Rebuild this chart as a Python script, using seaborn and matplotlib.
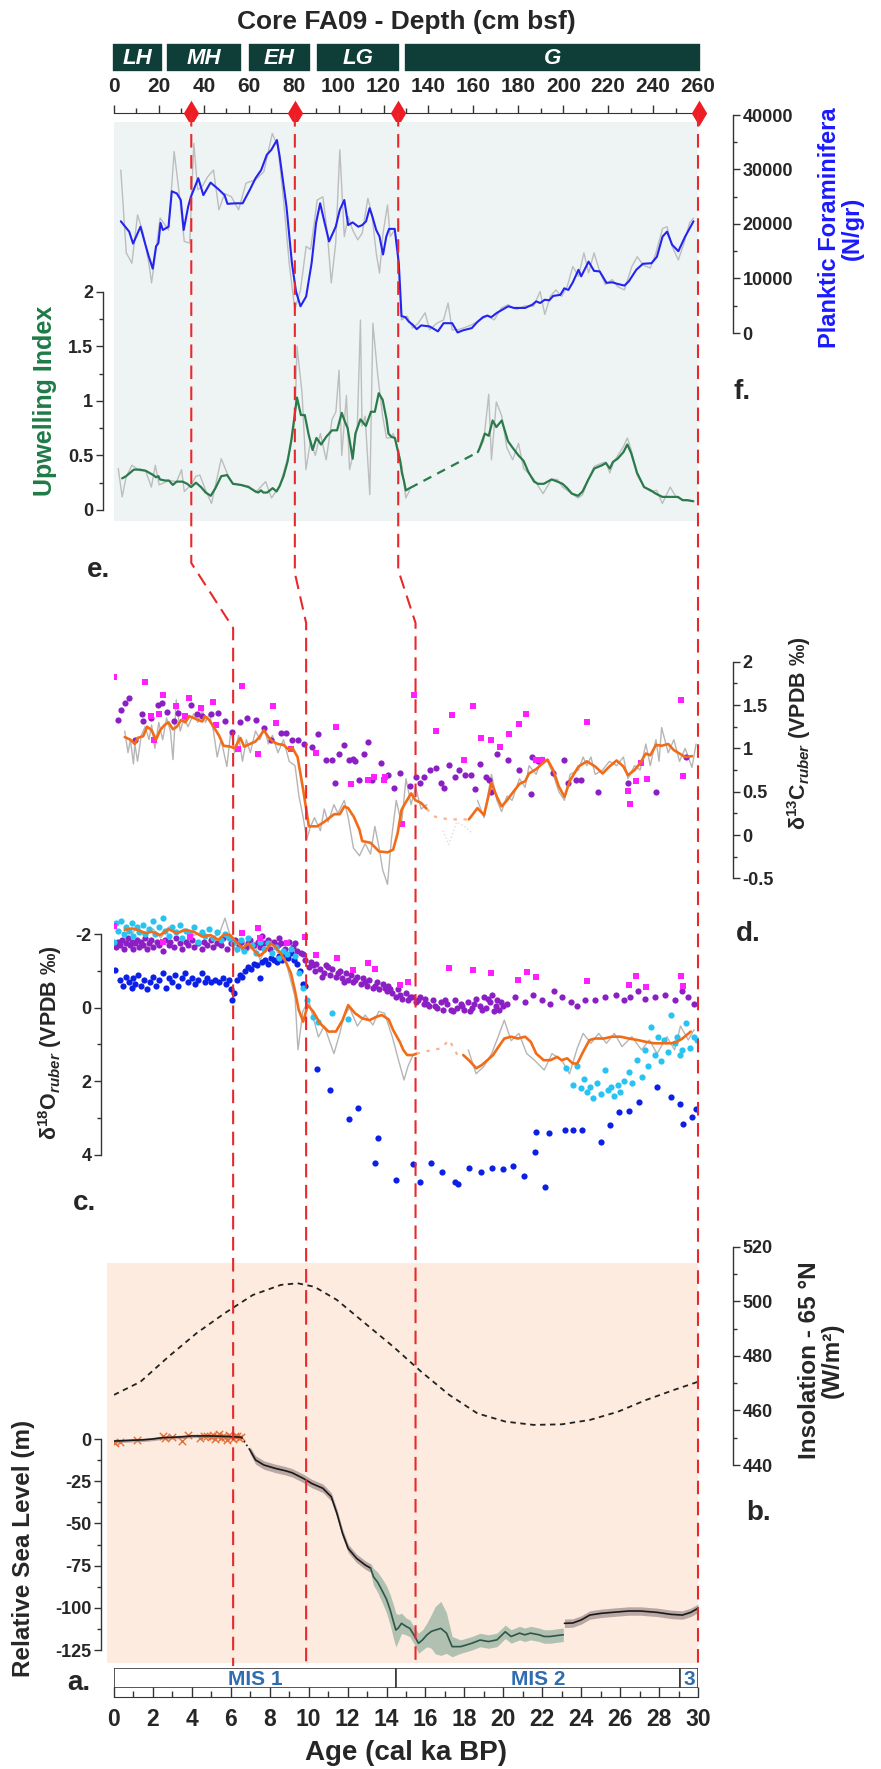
import numpy as np
import matplotlib
matplotlib.use('Agg')
import matplotlib.pyplot as plt
from matplotlib.ticker import FixedLocator, FuncFormatter
import seaborn as sns

# ---------------- data (ages in cal ka BP) ----------------
zone_labels = ['LH', 'MH', 'EH', 'LG', 'G']
zone_start = [-1, 23, 59.5, 90, 129]
zone_end = [21.75, 57, 87.5, 127.5, 261.5]

tie_depth = [34.5, 80.5, 126.5, 260.5]
tie_age_upper = [3.97, 9.29, 14.6, 30.0]
tie_age_lower = [6.12, 9.87, 15.49, 30.0]

mis_labels = ['MIS 1', 'MIS 2', '3']
mis_start = [0, 14.5, 29.1]
mis_end = [14.5, 29.1, 30]

# f. planktic foraminifera (N/gr)
foram_age = [0.35, 0.78, 0.98, 1.36, 1.59, 1.79, 1.99, 2.16, 2.28, 2.39,
             2.51, 2.80, 2.97, 3.23, 3.43, 3.58, 3.81, 3.95, 4.33, 4.59,
             4.96, 5.39, 5.68, 5.83, 6.26, 6.61, 6.98, 7.27, 7.56, 7.85,
             8.08, 8.37, 8.51, 8.86, 9.14, 9.35, 9.58, 9.87, 10.15, 10.38,
             10.59, 10.82, 11.05, 11.39, 11.60, 11.83, 12.03, 12.26, 12.55, 12.75,
             12.95, 13.13, 13.27, 13.47, 13.64, 13.82, 13.99, 14.13, 14.42, 14.63,
             14.77, 14.97, 15.14, 15.35, 15.55, 15.78, 16.21, 16.36, 16.64, 16.93,
             17.37, 17.65, 17.94, 18.38, 18.66, 18.95, 19.18, 19.38, 19.67, 19.96,
             20.25, 20.54, 21.12, 21.49, 21.69, 21.89, 22.13, 22.36, 22.56, 22.93,
             23.13, 23.34, 23.57, 23.86, 24.00, 24.38, 24.66, 24.95, 25.30, 25.59,
             25.88, 26.22, 26.45, 26.83, 27.17, 27.61, 27.89, 28.18, 28.41, 28.67,
             28.99, 29.34, 29.77]
foram_val = [20500, 18600, 16400, 19500, 16500, 14000, 11800, 15900, 16500, 20200,
             18900, 19500, 26000, 25600, 24400, 18900, 23200, 25000, 28400, 25300,
             27600, 26300, 25300, 23700, 23800, 23800, 26300, 28400, 29900, 32700,
             33600, 35400, 32400, 23200, 12800, 7600, 4900, 6700, 12800, 20200,
             23800, 20200, 16800, 19500, 22600, 24400, 19800, 20300, 19500, 19800,
             20500, 22900, 21400, 18900, 17700, 14400, 17700, 19100, 19100, 12800,
             3100, 2900, 2100, 1500, 700, 1400, 1200, 900, 300, 1800,
             1800, 100, 500, 900, 2000, 2900, 3200, 2900, 3700, 4300,
             4900, 4600, 4600, 5200, 5800, 5500, 6100, 6000, 6800, 7000,
             8200, 7900, 9300, 11600, 10400, 13100, 11400, 11300, 9200, 9300,
             9000, 8700, 9500, 11600, 12700, 12800, 14000, 17700, 18600, 16200,
             15000, 17700, 20500]
foram_raw_age = [0.35, 0.63, 0.92, 1.21, 1.50, 1.79, 1.93, 2.16, 2.37, 2.80,
                 3.09, 3.37, 3.61, 3.89, 4.10, 4.30, 4.53, 4.82, 5.11, 5.39,
                 5.68, 6.03, 6.40, 6.78, 7.27, 7.70, 8.13, 8.42, 8.71, 9.00,
                 9.29, 9.58, 9.87, 10.10, 10.44, 10.73, 10.96, 11.16, 11.39, 11.60,
                 11.83, 12.03, 12.26, 12.52, 12.75, 13.04, 13.24, 13.47, 13.64, 13.82,
                 14.05, 14.19, 14.42, 14.57, 14.77, 15.06, 15.35, 15.63, 15.98, 16.21,
                 16.59, 16.93, 17.16, 17.37, 17.65, 17.94, 18.38, 18.81, 19.18, 19.53,
                 19.90, 20.25, 20.68, 21.12, 21.55, 21.89, 22.13, 22.41, 22.70, 22.99,
                 23.28, 23.57, 23.86, 24.14, 24.38, 24.66, 24.95, 25.24, 25.59, 25.88,
                 26.22, 26.60, 26.88, 27.17, 27.55, 27.84, 28.18, 28.41, 28.67, 28.99,
                 29.28, 29.57, 29.77]
foram_raw_val = [29900, 14700, 12800, 21700, 18300, 12800, 9200, 15300, 21100, 18900,
                 33300, 25000, 16800, 16500, 34800, 26300, 26900, 28700, 29900, 22600,
                 25600, 25000, 22600, 27500, 28100, 29600, 36600, 34200, 24400, 12800,
                 4300, 7900, 15900, 15300, 24400, 25000, 18300, 9200, 16500, 33600,
                 17700, 21400, 18900, 17100, 18300, 24700, 22000, 14700, 11000, 18300,
                 23500, 17700, 18900, 15300, 2400, 3100, 900, 1800, 3700, 600,
                 1800, 2400, 5500, 600, 600, 900, 1500, 2400, 3100, 2400,
                 4600, 5200, 4300, 5000, 4900, 7600, 3400, 6700, 7900, 6700,
                 8500, 12200, 10400, 14700, 11000, 14700, 11300, 8900, 9800, 8500,
                 7900, 12200, 14000, 12500, 11900, 14700, 19200, 19500, 15900, 13400,
                 16500, 20200, 21100]

# e. upwelling index
upw_age1 = [0.42, 0.62, 1.02, 1.32, 1.62, 1.82, 2.02, 2.16, 2.28, 2.36,
            2.62, 2.82, 3.02, 3.22, 3.52, 3.76, 3.96, 4.21, 4.47, 4.71,
            4.97, 5.21, 5.51, 5.81, 6.11, 6.51, 6.91, 7.27, 7.41, 7.55,
            7.67, 7.87, 8.01, 8.15, 8.35, 8.51, 8.71, 8.91, 9.11, 9.26,
            9.40, 9.60, 9.80, 10.00, 10.20, 10.40, 10.64, 10.90, 11.20, 11.46,
            11.70, 11.86, 12.00, 12.26, 12.40, 12.66, 12.94, 13.20, 13.40, 13.60,
            13.80, 14.00, 14.10, 14.25, 14.43, 14.53, 14.69, 14.79, 14.89, 14.99,
            15.19]
upw_val1 = [0.29, 0.31, 0.37, 0.37, 0.36, 0.34, 0.32, 0.30, 0.31, 0.28,
            0.27, 0.27, 0.23, 0.26, 0.26, 0.24, 0.21, 0.25, 0.21, 0.16,
            0.13, 0.20, 0.31, 0.32, 0.24, 0.23, 0.21, 0.17, 0.16, 0.18,
            0.16, 0.16, 0.18, 0.20, 0.17, 0.22, 0.31, 0.44, 0.64, 0.84,
            1.03, 0.87, 0.87, 0.69, 0.55, 0.66, 0.60, 0.67, 0.73, 0.73,
            0.89, 0.81, 0.75, 0.47, 0.70, 0.83, 0.77, 0.90, 0.90, 1.07,
            1.01, 0.83, 0.70, 0.67, 0.66, 0.58, 0.46, 0.34, 0.27, 0.18,
            0.20]
upw_age2 = [18.69, 18.79, 19.05, 19.25, 19.45, 19.64, 19.92, 20.24, 20.48, 20.78,
            21.04, 21.28, 21.58, 21.78, 22.08, 22.48, 22.78, 23.04, 23.28, 23.52,
            23.84, 24.07, 24.37, 24.67, 25.07, 25.27, 25.47, 25.63, 25.87, 26.17,
            26.37, 26.57, 26.87, 27.23, 27.57, 27.83, 28.17, 28.47, 28.77, 28.97,
            29.21, 29.47, 29.76]
upw_val2 = [0.53, 0.57, 0.70, 0.68, 0.82, 0.76, 0.82, 0.63, 0.57, 0.50,
            0.45, 0.35, 0.26, 0.24, 0.24, 0.28, 0.26, 0.24, 0.20, 0.15,
            0.13, 0.17, 0.28, 0.38, 0.41, 0.43, 0.38, 0.44, 0.47, 0.53,
            0.60, 0.52, 0.34, 0.21, 0.18, 0.15, 0.12, 0.12, 0.12, 0.12,
            0.09, 0.09, 0.08]
upw_raw_age1 = [0.22, 0.42, 0.62, 0.92, 1.32, 1.62, 1.92, 2.12, 2.32, 2.82,
                3.22, 3.47, 3.61, 3.96, 4.21, 4.41, 4.71, 5.01, 5.51, 5.87,
                6.11, 6.91, 7.27, 7.79, 8.09, 8.51, 9.00, 9.30, 9.40, 9.66,
                9.86, 10.10, 10.34, 10.60, 10.90, 11.20, 11.40, 11.56, 11.70, 11.94,
                12.10, 12.30, 12.50, 12.66, 12.74, 12.90, 13.14, 13.30, 13.54, 13.80,
                14.00, 14.20, 14.34, 14.50, 14.79, 14.99, 15.19]
upw_raw_val1 = [0.38, 0.12, 0.30, 0.41, 0.36, 0.36, 0.21, 0.41, 0.23, 0.27,
                0.26, 0.37, 0.17, 0.23, 0.31, 0.32, 0.18, 0.06, 0.47, 0.31,
                0.24, 0.22, 0.16, 0.26, 0.11, 0.22, 0.52, 0.83, 1.50, 1.07,
                0.37, 0.64, 0.50, 0.70, 0.46, 0.83, 0.90, 1.28, 0.50, 1.05,
                0.37, 0.52, 0.77, 1.74, 0.77, 0.86, 0.14, 1.71, 1.25, 0.86,
                0.66, 0.66, 0.70, 0.61, 0.40, 0.11, 0.18]
upw_raw_age2 = [18.69, 18.99, 19.25, 19.39, 19.64, 19.92, 20.18, 20.48, 20.78, 21.04,
                21.28, 21.58, 22.04, 22.48, 22.78, 23.04, 23.28, 23.84, 24.07, 24.37,
                24.67, 25.07, 25.27, 25.47, 25.67, 26.17, 26.37, 26.57, 26.87, 27.23,
                27.57, 27.87, 28.17, 28.57, 28.87, 29.27, 29.76]
upw_raw_val2 = [0.53, 0.63, 1.06, 0.46, 0.99, 0.86, 0.57, 0.46, 0.61, 0.38,
                0.34, 0.28, 0.15, 0.28, 0.28, 0.21, 0.18, 0.11, 0.14, 0.28,
                0.40, 0.43, 0.44, 0.34, 0.44, 0.58, 0.66, 0.55, 0.32, 0.21,
                0.17, 0.18, 0.06, 0.21, 0.12, 0.09, 0.08]

# d. d13C ruber
d13c_age1 = [0.55, 0.84, 1.07, 1.21, 1.50, 1.70, 1.93, 2.16, 2.37, 2.60,
             2.80, 3.03, 3.23, 3.46, 3.66, 3.87, 4.10, 4.30, 4.53, 4.67,
             4.88, 5.11, 5.39, 5.63, 5.97, 6.20, 6.49, 6.69, 6.98, 7.27,
             7.47, 7.70, 7.93, 8.14, 8.42, 8.71, 9.00, 9.15, 9.43, 9.72,
             10.01, 10.44, 10.79, 11.02, 11.31, 11.60, 11.83, 12.03, 12.32, 12.61,
             12.75, 13.18, 13.62, 14.05, 14.34, 14.57, 14.77, 14.97, 15.26, 15.49,
             15.78, 16.07]
d13c_val1 = [1.13, 1.10, 1.05, 1.12, 1.14, 1.25, 1.21, 1.10, 1.21, 1.27,
             1.30, 1.22, 1.25, 1.33, 1.30, 1.37, 1.35, 1.33, 1.31, 1.37,
             1.33, 1.25, 1.15, 1.03, 1.02, 1.00, 1.12, 1.02, 1.05, 1.08,
             1.13, 1.21, 1.13, 1.08, 1.05, 1.04, 0.98, 1.01, 0.90, 0.52,
             0.10, 0.10, 0.15, 0.19, 0.24, 0.24, 0.33, 0.31, 0.21, 0.06,
             -0.07, -0.09, -0.19, -0.20, -0.17, 0.02, 0.29, 0.37, 0.48, 0.40,
             0.37, 0.30]
d13c_gap_age = [16.50, 16.93, 17.37, 17.80]
d13c_gap_val = [0.21, 0.19, 0.18, 0.18]
d13c_age2 = [18.23, 18.67, 19.01, 19.39, 19.67, 19.91, 20.19, 20.45, 20.83, 21.12,
             21.32, 21.69, 21.98, 22.27, 22.56, 22.85, 23.14, 23.43, 23.86, 24.29,
             24.72, 25.10, 25.45, 25.82, 26.17, 26.40, 26.74, 27.03, 27.32, 27.55,
             27.84, 28.13, 28.47, 28.76, 29.05, 29.34, 29.69]
d13c_val2 = [0.18, 0.31, 0.23, 0.60, 0.44, 0.33, 0.40, 0.48, 0.59, 0.62,
             0.71, 0.76, 0.82, 0.87, 0.75, 0.56, 0.44, 0.63, 0.79, 0.85,
             0.79, 0.71, 0.79, 0.86, 0.79, 0.69, 0.75, 0.83, 0.94, 0.92,
             1.04, 1.03, 1.05, 0.98, 0.94, 0.90, 0.91]
d13c_raw_age1 = [0.55, 0.72, 0.84, 1.00, 1.07, 1.21, 1.40, 1.60, 1.80, 1.93,
                 2.10, 2.30, 2.50, 2.70, 2.90, 3.03, 3.20, 3.40, 3.60, 3.80,
                 4.10, 4.30, 4.53, 4.70, 4.90, 5.11, 5.30, 5.50, 5.80, 6.00,
                 6.20, 6.40, 6.60, 6.80, 7.00, 7.27, 7.50, 7.70, 7.93, 8.14,
                 8.42, 8.71, 9.00, 9.30, 9.50, 9.72, 9.90, 10.10, 10.30, 10.60,
                 10.80, 11.00, 11.30, 11.50, 11.83, 12.03, 12.30, 12.61, 12.90, 13.18,
                 13.40, 13.62, 13.80, 14.05, 14.25, 14.50, 14.77, 15.00, 15.26, 15.49,
                 15.78, 16.07]
d13c_raw_val1 = [1.20, 0.95, 1.10, 0.82, 1.05, 0.85, 1.15, 1.25, 1.10, 1.27,
                 1.00, 1.30, 1.10, 1.35, 1.20, 0.87, 1.56, 1.20, 1.35, 1.25,
                 1.40, 1.30, 1.45, 1.30, 1.40, 1.20, 0.90, 1.10, 0.79, 1.20,
                 0.95, 1.15, 0.85, 1.10, 0.95, 1.20, 1.10, 1.25, 1.05, 1.15,
                 0.95, 1.10, 0.85, 0.80, 0.45, 0.20, -0.05, 0.10, 0.20, 0.05,
                 0.30, 0.15, 0.35, 0.25, 0.40, 0.20, -0.15, -0.24, -0.10, -0.22,
                 0.10, -0.15, -0.40, -0.57, -0.05, 0.40, 0.13, 0.65, 0.35, 0.55,
                 0.30, 0.35]
d13c_raw_gap_age = [16.90, 17.20, 17.60, 18.00, 18.40]
d13c_raw_gap_val = [0.05, -0.11, 0.15, 0.10, 0.02]
d13c_raw_age2 = [18.67, 19.01, 19.39, 19.67, 19.91, 20.19, 20.45, 20.83, 21.12, 21.32,
                 21.69, 21.98, 22.27, 22.56, 22.85, 23.14, 23.43, 23.86, 24.10, 24.29,
                 24.50, 24.72, 25.10, 25.45, 25.82, 26.17, 26.40, 26.74, 27.03, 27.32,
                 27.55, 27.84, 28.00, 28.13, 28.47, 28.76, 29.05, 29.34, 29.69, 29.90]
d13c_raw_val2 = [0.40, 0.20, 0.70, 0.40, 0.27, 0.45, 0.40, 0.65, 0.55, 0.80,
                 0.70, 0.90, 0.85, 0.70, 0.50, 0.40, 0.70, 0.75, 0.90, 0.80,
                 0.90, 0.70, 0.75, 0.85, 0.80, 0.90, 0.65, 0.80, 0.75, 1.05,
                 0.80, 1.10, 0.85, 1.24, 0.95, 1.10, 0.85, 1.00, 0.78, 1.05]
d13c_purple_age = [0.20, 0.35, 0.55, 0.78, 1.07, 1.44, 1.50, 1.88, 2.28, 2.45,
                   2.74, 3.09, 3.29, 3.66, 3.95, 4.24, 4.53, 4.96, 5.34, 5.68,
                   6.06, 6.49, 6.84, 7.27, 7.70, 8.08, 8.57, 8.86, 9.15, 9.43,
                   9.78, 10.15, 10.50, 10.88, 11.22, 11.37, 11.57, 11.80, 12.09, 12.26,
                   12.38, 12.61, 12.84, 13.04, 13.24, 13.70, 14.05, 14.40, 14.68, 15.20,
                   15.49, 15.72, 15.92, 16.24, 16.53, 16.79, 16.93, 17.22, 17.51, 17.74,
                   18.03, 18.32, 18.52, 18.81, 19.10, 19.24, 19.39, 19.67, 20.25, 20.83,
                   21.41, 21.49, 21.78, 22.56, 23.14, 23.34, 23.71, 24.00, 24.87, 26.40,
                   27.84, 29.40]
d13c_purple_val = [1.33, 1.44, 1.52, 1.58, 1.10, 1.40, 1.31, 1.35, 1.50, 1.52,
                   1.42, 1.31, 1.41, 1.37, 1.50, 1.40, 1.37, 1.40, 1.41, 1.31,
                   1.19, 1.30, 1.35, 1.33, 1.23, 1.10, 1.18, 1.18, 1.10, 1.10,
                   1.05, 1.01, 1.16, 0.87, 0.87, 0.60, 0.94, 1.04, 0.87, 0.88,
                   0.85, 0.64, 0.94, 1.07, 0.64, 0.83, 0.69, 0.54, 0.71, 0.56,
                   0.67, 0.60, 0.67, 0.75, 0.77, 0.60, 0.54, 0.81, 0.67, 0.75,
                   0.69, 0.69, 0.53, 0.82, 0.67, 0.63, 0.50, 0.94, 0.87, 0.75,
                   0.47, 0.90, 0.85, 0.71, 0.87, 0.60, 0.64, 0.64, 0.50, 0.60,
                   0.50, 0.90]
d13c_pink_age = [0.00, 1.59, 1.88, 2.08, 2.31, 2.54, 3.20, 3.66, 3.84, 4.47,
                 5.11, 5.25, 6.38, 6.55, 7.41, 8.19, 8.31, 9.09, 10.36, 11.40,
                 12.15, 13.04, 13.36, 13.85, 13.93, 14.80, 15.41, 16.56, 17.37, 17.97,
                 18.46, 18.84, 19.36, 19.85, 20.31, 20.83, 21.18, 21.69, 21.98, 24.29,
                 26.40, 26.51, 26.80, 27.09, 27.38, 29.14, 29.22]
d13c_pink_val = [1.82, 1.77, 1.37, 1.10, 1.40, 1.62, 1.49, 1.37, 1.58, 1.47,
                 1.53, 1.27, 0.99, 1.72, 0.94, 1.49, 1.29, 0.99, 0.95, 1.25,
                 0.59, 0.63, 0.67, 0.64, 0.67, 0.13, 1.62, 1.20, 1.38, 0.87,
                 1.49, 1.12, 1.10, 1.01, 1.17, 1.28, 1.40, 0.86, 0.86, 1.30,
                 0.51, 0.36, 0.62, 0.83, 0.65, 1.56, 0.68]

# c. d18O ruber
d18o_age1 = [0.55, 0.92, 1.21, 1.64, 1.93, 2.37, 2.80, 3.23, 3.66, 4.10,
             4.53, 4.96, 5.34, 5.68, 5.97, 6.26, 6.61, 6.90, 7.18, 7.47,
             7.76, 8.05, 8.28, 8.57, 8.86, 9.09, 9.29, 9.49, 9.72, 9.95,
             10.24, 10.59, 11.02, 11.40, 11.74, 12.03, 12.38, 12.75, 13.13, 13.47,
             13.76, 14.11, 14.34, 14.68, 14.86, 15.06, 15.35, 15.55]
d18o_val1 = [-2.12, -2.16, -2.12, -2.03, -2.07, -1.98, -2.14, -2.03, -2.12, -2.07,
             -1.94, -1.98, -1.85, -2.00, -1.98, -1.80, -1.62, -1.75, -1.57, -1.41,
             -1.53, -1.75, -1.66, -1.48, -1.21, -0.94, -0.48, 0.06, 0.38, -0.07,
             0.11, 0.43, 0.65, 0.65, 0.34, -0.07, 0.15, 0.29, 0.34, 0.25,
             0.20, 0.32, 0.61, 0.93, 1.15, 1.29, 1.29, 1.25]
d18o_gap_age = [16.36, 16.79, 17.22, 17.65]
d18o_gap_val = [1.15, 1.11, 0.88, 1.29]
d18o_age2 = [17.94, 18.23, 18.61, 18.90, 19.18, 19.47, 19.76, 20.05, 20.40, 20.74,
             21.12, 21.41, 21.69, 22.07, 22.42, 22.76, 22.99, 23.28, 23.57, 23.80,
             24.15, 24.43, 24.72, 25.16, 25.59, 26.02, 26.45, 26.89, 27.32, 27.75,
             28.18, 28.62, 28.91, 29.20, 29.63]
d18o_val2 = [1.29, 1.43, 1.65, 1.56, 1.43, 1.29, 1.06, 0.84, 0.79, 0.84,
             0.79, 0.93, 1.25, 1.43, 1.43, 1.34, 1.43, 1.38, 1.52, 1.52,
             1.15, 0.88, 0.84, 0.84, 0.79, 0.79, 0.84, 0.88, 0.93, 0.97,
             0.97, 0.97, 0.93, 0.84, 0.65]
d18o_raw_age1 = [0.55, 0.90, 1.20, 1.60, 2.00, 2.40, 2.80, 3.20, 3.60, 4.00,
                 4.50, 5.00, 5.40, 5.70, 6.00, 6.30, 6.60, 6.90, 7.20, 7.50,
                 7.80, 8.10, 8.40, 8.70, 9.00, 9.30, 9.45, 9.70, 10.00, 10.30,
                 10.50, 10.80, 11.30, 11.60, 11.80, 12.10, 12.50, 12.90, 13.30, 13.60,
                 13.90, 14.30, 14.60, 14.90, 15.10, 15.35]
d18o_raw_val1 = [-2.20, -2.00, -2.20, -1.95, -2.15, -1.90, -2.20, -2.00, -2.15, -1.95,
                 -2.05, -1.90, -2.00, -2.44, -1.90, -1.50, -1.80, -1.55, -1.75, -1.30,
                 -1.60, -1.85, -1.50, -1.55, -0.90, -0.30, 1.15, 0.10, -0.20, 0.40,
                 0.80, 0.50, 1.25, 0.70, 0.25, 0.00, 0.50, 0.20, 0.47, 0.10,
                 0.15, 0.80, 1.40, 1.97, 1.60, 1.30]
d18o_raw_age2 = [18.20, 18.60, 19.00, 19.40, 19.80, 20.05, 20.40, 20.80, 21.20, 21.60,
                 22.10, 22.50, 23.00, 23.40, 23.80, 24.10, 24.50, 24.90, 25.30, 25.70,
                 26.10, 26.60, 27.10, 27.50, 27.90, 28.40, 28.80, 29.10, 29.50, 29.80]
d18o_raw_val2 = [1.15, 1.80, 1.60, 1.25, 0.70, 0.34, 0.90, 0.70, 1.25, 1.43,
                 1.70, 1.25, 1.43, 1.80, 1.10, 0.70, 0.97, 0.70, 0.97, 0.70,
                 1.06, 0.79, 1.15, 0.88, 1.25, 0.79, 1.15, 0.50, 0.88, 0.60]
d18o_purple_age = [0.10, 0.20, 0.30, 0.40, 0.50, 0.60, 0.70, 0.80, 0.90, 1.00,
                   1.10, 1.20, 1.30, 1.40, 1.50, 1.60, 1.70, 1.80, 1.90, 2.00,
                   2.20, 2.30, 2.50, 2.60, 2.80, 2.90, 3.10, 3.20, 3.40, 3.50,
                   3.70, 3.80, 4.00, 4.10, 4.30, 4.50, 4.60, 4.80, 5.00, 5.10,
                   5.30, 5.50, 5.60, 5.80, 6.00, 6.20, 6.40, 6.50, 6.70, 6.90,
                   7.00, 7.20, 7.40, 7.50, 7.70, 7.90, 8.00, 8.20, 8.40, 8.60,
                   8.80, 9.00, 9.20, 9.40, 9.60, 9.80, 10.00, 10.10, 10.30, 10.40,
                   10.60, 10.80, 10.90, 11.10, 11.20, 11.40, 11.60, 11.70, 11.90, 12.00,
                   12.20, 12.30, 12.50, 12.70, 12.80, 13.00, 13.10, 13.30, 13.50, 13.60,
                   13.80, 14.00, 14.10, 14.30, 14.50, 14.60, 14.80, 15.00, 15.10, 15.30,
                   15.50, 15.70, 15.90, 16.00, 16.20, 16.40, 16.60, 16.80, 16.90, 17.10,
                   17.30, 17.50, 17.60, 17.80, 18.00, 18.20, 18.40, 18.60, 18.80, 19.00,
                   19.10, 19.30, 19.40, 19.60, 19.70, 19.80, 20.20, 20.60, 21.10, 21.50,
                   22.00, 22.40, 22.60, 23.00, 23.50, 23.80, 24.20, 24.70, 25.20, 25.80,
                   26.20, 26.50, 26.90, 27.30, 27.80, 28.30, 28.80, 29.20, 29.50, 29.80,
                   9.70, 10.20, 10.70, 11.00, 11.50, 11.80, 12.40, 12.90, 13.40, 13.90,
                   14.20, 14.70, 15.20, 15.60, 16.10, 16.50, 17.00, 17.40, 17.90, 18.30,
                   18.50, 18.90, 19.20, 19.50, 19.90, 20.00, 9.30, 8.50, 7.60, 6.80]
d18o_purple_val = [-1.65, -1.80, -1.70, -1.85, -1.60, -1.75, -1.90, -1.70, -1.80, -1.60,
                   -1.75, -1.85, -1.65, -1.80, -1.70, -1.90, -1.60, -1.75, -1.85, -1.65,
                   -1.80, -1.70, -1.55, -1.85, -1.70, -1.80, -1.65, -1.90, -1.75, -1.60,
                   -1.80, -1.70, -1.85, -1.65, -1.75, -1.60, -1.80, -1.70, -1.85, -1.65,
                   -1.75, -1.70, -1.90, -1.60, -1.75, -1.85, -1.70, -1.80, -1.60, -1.75,
                   -1.85, -1.70, -1.80, -1.65, -1.75, -1.85, -1.60, -1.80, -1.70, -1.75,
                   -1.60, -1.80, -1.65, -1.55, -1.50, -1.30, -1.10, -1.25, -1.00, -1.20,
                   -1.05, -0.95, -1.15, -0.90, -1.05, -0.85, -1.00, -0.80, -0.95, -0.75,
                   -0.90, -0.70, -0.85, -0.65, -0.80, -0.60, -0.75, -0.55, -0.70, -0.50,
                   -0.65, -0.45, -0.60, -0.40, -0.30, -0.50, -0.25, -0.40, -0.20, -0.30,
                   -0.15, -0.30, -0.10, -0.25, -0.05, -0.20, 0.00, -0.15, 0.05, -0.10,
                   0.05, -0.20, 0.00, -0.10, 0.05, -0.15, 0.00, -0.25, -0.05, -0.30,
                   0.00, -0.15, -0.35, -0.05, -0.20, 0.05, -0.10, -0.30, -0.15, -0.35,
                   -0.20, -0.10, -0.45, -0.30, -0.15, -0.05, -0.20, -0.20, -0.30, -0.35,
                   -0.20, -0.30, -0.45, -0.25, -0.30, -0.35, -0.20, -0.45, -0.30, -0.10,
                   -1.45, -1.15, -0.85, -1.10, -0.95, -0.70, -0.75, -0.70, -0.60, -0.55,
                   -0.50, -0.35, -0.30, -0.20, -0.10, -0.05, -0.20, 0.10, -0.05, 0.10,
                   -0.10, 0.05, -0.25, 0.10, -0.15, -0.05, -1.75, -1.90, -1.95, -1.65]
d18o_cyan_age = [0.00, 0.10, 0.20, 0.35, 0.50, 0.60, 0.75, 0.90, 1.00, 1.20,
                 1.30, 1.50, 1.60, 1.80, 2.00, 2.10, 2.30, 2.50, 2.60, 2.80,
                 3.00, 3.20, 3.40, 3.50, 3.70, 3.90, 4.10, 4.30, 4.50, 4.70,
                 4.90, 5.10, 5.30, 5.50, 5.70, 5.90, 6.10, 6.30, 6.50, 6.70,
                 6.90, 7.10, 7.30, 7.50, 7.70, 7.90, 8.10, 8.30, 8.50, 8.70,
                 8.90, 9.10, 9.30, 9.50, 9.70, 9.90, 10.20, 10.50, 11.20, 12.00,
                 23.20, 23.60, 23.80, 24.00, 24.15, 24.30, 24.43, 24.60, 24.80, 25.00,
                 25.24, 25.40, 25.53, 25.70, 25.88, 26.00, 26.20, 26.45, 26.60, 26.89,
                 27.10, 27.26, 27.45, 27.61, 27.80, 27.95, 28.10, 28.24, 28.45, 28.62,
                 28.80, 28.91, 29.05, 29.20, 29.40, 29.60, 29.77, 29.95]
d18o_cyan_val = [-1.80, -2.30, -2.10, -2.35, -2.00, -2.20, -2.10, -2.30, -1.95, -2.20,
                 -2.05, -2.25, -2.00, -2.15, -2.35, -2.00, -2.20, -2.45, -2.10, -1.95,
                 -2.20, -2.05, -2.25, -1.90, -2.10, -2.00, -2.20, -1.80, -2.05, -1.95,
                 -2.15, -1.90, -2.05, -1.85, -2.00, -1.90, -1.75, -1.60, -1.85, -1.55,
                 -1.90, -1.70, -1.50, -1.80, -1.60, -1.75, -1.50, -1.65, -1.35, -1.55,
                 -1.45, -1.60, -1.40, -0.95, -0.55, -0.20, 0.25, 0.40, 0.15, 0.30,
                 1.65, 2.10, 1.60, 2.20, 1.93, 2.30, 2.15, 2.45, 2.05, 2.35,
                 1.70, 2.25, 2.15, 2.40, 2.10, 2.30, 2.00, 1.75, 2.05, 1.43,
                 1.90, 1.15, 1.60, 0.52, 1.30, 0.79, 1.45, 0.88, 1.20, 0.20,
                 0.95, 0.79, 1.30, 1.15, 0.43, 1.10, 0.79, 0.88]
d18o_blue_age = [0.05, 0.30, 0.45, 0.60, 0.75, 0.90, 1.00, 1.10, 1.25, 1.40,
                 1.55, 1.70, 1.85, 2.00, 2.15, 2.30, 2.50, 2.65, 2.80, 3.00,
                 3.15, 3.30, 3.50, 3.65, 3.80, 4.00, 4.15, 4.30, 4.50, 4.65,
                 4.80, 5.00, 5.20, 5.40, 5.60, 5.75, 5.90, 6.00, 6.05, 6.15,
                 6.30, 6.45, 6.60, 6.75, 6.90, 7.05, 7.20, 7.35, 7.50, 7.60,
                 7.75, 7.90, 8.05, 8.20, 8.35, 8.50, 8.65, 8.80, 8.95, 9.10,
                 9.25, 9.40, 9.55, 9.70, 9.80, 10.44, 11.10, 12.09, 12.52, 13.41,
                 13.56, 14.48, 15.35, 15.72, 16.30, 16.85, 17.51, 17.66, 18.23, 18.87,
                 19.44, 19.99, 20.48, 21.06, 21.61, 21.69, 22.13, 22.33, 23.19, 23.57,
                 24.06, 25.01, 25.50, 25.96, 26.45, 26.95, 27.89, 28.62, 29.05, 29.25,
                 29.69, 29.92]
d18o_blue_val = [-1.03, -0.75, -0.60, -0.85, -0.70, -0.55, -0.80, -0.65, -0.90, -0.60,
                 -0.75, -0.50, -0.70, -0.85, -0.60, -0.75, -0.95, -0.55, -0.80, -0.70,
                 -0.90, -0.60, -0.80, -0.95, -0.70, -0.80, -0.65, -0.75, -0.95, -0.70,
                 -0.80, -0.70, -0.75, -0.70, -0.80, -0.65, -0.75, -0.50, -0.20, -0.40,
                 -0.75, -0.90, -0.85, -1.00, -1.10, -1.05, -1.20, -1.15, -0.80, -1.25,
                 -1.30, -1.20, -1.35, -1.30, -1.25, -1.40, -1.30, -1.45, -1.35, -1.50,
                 -1.30, -1.20, -1.00, -0.65, -0.60, 1.68, 2.24, 3.04, 2.74, 4.23,
                 3.56, 4.70, 4.26, 4.75, 4.24, 4.47, 4.74, 4.80, 4.38, 4.49,
                 4.38, 4.40, 4.30, 4.58, 3.92, 3.38, 4.88, 3.42, 3.33, 3.33,
                 3.33, 3.65, 3.20, 2.85, 2.82, 2.57, 2.16, 2.42, 2.63, 3.16,
                 2.99, 2.77]
d18o_pink_age = [0.00, 2.53, 3.90, 6.56, 7.41, 7.50, 8.90, 9.80, 10.40, 11.44,
                 12.29, 13.04, 13.40, 14.68, 15.11, 17.22, 18.46, 19.39, 20.74, 21.20,
                 21.69, 24.29, 26.45, 26.80, 27.32, 29.14, 29.22]
d18o_pink_val = [-2.23, -1.80, -1.94, -2.03, -2.16, -1.90, -1.75, -1.94, -1.44, -1.35,
                 -1.03, -1.21, -1.06, -0.62, -0.70, -1.07, -1.03, -0.94, -0.75, -0.98,
                 -0.85, -0.73, -0.62, -0.86, -0.57, -0.86, -0.59]

# b. insolation 65N (W/m2)
ins_age = [0, 1.36, 2.8, 4.24, 5.68, 7.13, 8.57, 9.43, 10.3, 11.45, 12.9, 14.34,
           15.78, 17.22, 18.67, 20.11, 21.55, 22.99, 24.44, 25.88, 27.32, 28.76, 30]
ins_val = [465.7, 470.5, 479.7, 488.3, 495.6, 502.3, 506.0, 506.6, 505.3, 500.5, 491.9, 483.4,
           474.2, 465.7, 458.9, 455.9, 454.7, 454.9, 456.5, 459.5, 463.8, 467.5, 470.5]

# a. relative sea level (m)
sl1_age = [0, 0.5, 1.0, 1.5, 2.0, 2.5, 3.0, 3.5, 4.0, 4.5, 5.0, 5.5, 6.0, 6.55]
sl1_val = [-1.2, -1.0, -0.7, -0.5, 0.0, 0.8, 1.0, 1.3, 1.8, 1.8, 1.8, 1.6, 1.4, 1.0]
sl1_err = [1.0] * 14
sl2_age = [6.98, 7.27, 7.7, 8.28, 8.8, 9.15, 9.72, 10.15, 10.73, 11.16, 11.45, 11.74,
           12.03, 12.46, 12.9, 13.18]
sl2_val = [-6.5, -12.4, -15.4, -17.4, -18.8, -20.0, -23.3, -26.3, -29.2, -34.2, -44.0, -55.9,
           -64.8, -70.7, -74.6, -76.5]
sl2_err = [2.0, 2.5, 2.5, 2.5, 2.5, 2.5, 2.5, 2.5, 2.5, 2.5, 2.5, 2.5, 2.5, 2.5, 2.5, 2.5]
sl3_age = [13.18, 13.33, 13.55, 13.76, 14.0, 14.19, 14.35, 14.48, 14.6, 14.77,
           15.0, 15.2, 15.45, 15.64, 15.85, 16.07, 16.3, 16.5, 16.79, 17.08,
           17.37, 17.8, 18.1, 18.38, 18.81, 19.24, 19.67, 20.1, 20.4, 20.83,
           21.1, 21.4, 21.84, 22.1, 22.4, 22.85, 23.08]
sl3_val = [-76.5, -81.6, -85.0, -89.5, -95.0, -101.3, -108.0, -113.2, -112.0, -109.2,
           -111.0, -112.2, -117.0, -121.0, -119.0, -116.1, -114.0, -113.2, -112.2, -115.0,
           -123.0, -123.0, -122.0, -121.0, -119.1, -120.0, -119.0, -114.2, -117.0, -115.0,
           -116.0, -115.0, -116.0, -117.0, -117.0, -116.3, -116.0]
sl3_err = [3, 5, 6, 7, 8, 9, 10, 10, 8, 6,
           5, 5, 5, 6, 6, 7, 10, 14, 16, 12,
           6, 4, 4, 4, 4, 4, 4, 4, 4, 4,
           4, 4, 4, 4, 4, 4, 4]
sl4_age = [23.14, 23.57, 24.0, 24.44, 25.01, 25.59, 26.45, 27.03, 27.9, 28.62, 29.2, 29.63, 30.0]
sl4_val = [-109.2, -109.0, -107.2, -104.3, -103.3, -102.7, -101.9, -101.9, -102.7, -103.9,
           -104.3, -102.7, -100.3]
sl4_err = [2.5] * 13
sl_obs_age = [0.05, 0.30, 1.20, 2.50, 2.60, 3.00, 3.50, 3.80, 4.40, 4.60,
              4.80, 5.00, 5.10, 5.20, 5.30, 5.40, 5.50, 5.60, 5.70, 5.80,
              5.90, 6.00, 6.10, 6.20, 6.30, 6.40, 6.50]
sl_obs_val = [-2.5, -1.5, -0.5, 2.0, 0.5, 1.0, -1.0, 2.5, 0.5, 2.0,
              1.5, 1.0, 2.5, 0.0, 1.5, 3.0, 0.5, 2.0, 1.0, -0.5,
              2.5, 1.0, 0.0, 1.5, 2.0, 0.5, 1.0]

# ---------------- style ----------------
sns.set_style('ticks')
plt.rcParams['font.family'] = ['Liberation Sans Narrow', 'Liberation Sans', 'DejaVu Sans']
plt.rcParams['font.weight'] = 'bold'
plt.rcParams['axes.unicode_minus'] = False
plt.rcParams['mathtext.fontset'] = 'custom'
plt.rcParams['mathtext.rm'] = 'Liberation Sans:bold'
plt.rcParams['mathtext.it'] = 'Liberation Sans:italic:bold'
plt.rcParams['mathtext.bf'] = 'Liberation Sans:bold'

RED = '#e8282b'
SPINE = '#333333'
W, H = 881, 1769
X0, X1 = 114, 698

fig = plt.figure(figsize=(W / 100, H / 100), dpi=100)
fig.patch.set_facecolor('white')


def box(left, top, right, bottom):
    return fig.add_axes([left / W, 1 - bottom / H, (right - left) / W, (bottom - top) / H])


def lims(top, bottom, v1, y1, v2, y2):
    k = (v2 - v1) / (y2 - y1)
    return v1 + (bottom - y1) * k, v1 + (top - y1) * k


def gfmt(v, p):
    return f'{v:g}'


def style_y(ax, side, out_px, lo, hi, major, minor, size=13):
    for s in ['top', 'bottom', 'left', 'right']:
        ax.spines[s].set_visible(s == side)
    sp = ax.spines[side]
    sp.set_position(('outward', out_px * 0.72))
    sp.set_bounds(lo, hi)
    sp.set_linewidth(1)
    sp.set_color(SPINE)
    ax.set_xlim(0, 30)
    ax.set_xticks([])
    ax.set_xlabel('')
    ax.set_ylabel('')
    ax.yaxis.set_major_locator(FixedLocator(np.arange(lo, hi + 1e-9, major)))
    ax.yaxis.set_minor_locator(FixedLocator(np.arange(lo, hi + 1e-9, minor)))
    ax.yaxis.set_major_formatter(FuncFormatter(gfmt))
    if side == 'right':
        ax.yaxis.tick_right()
    else:
        ax.yaxis.tick_left()
    ax.tick_params(axis='y', which='major', length=5, width=1, color=SPINE,
                   labelsize=size, pad=2)
    ax.tick_params(axis='y', which='minor', length=3, width=1, color=SPINE)


def line(ax, x, y, color, lw, **kw):
    sns.lineplot(x=x, y=y, ax=ax, color=color, lw=lw, estimator=None, sort=False, **kw)


def dots(ax, x, y, color, marker='o', s=20, z=3):
    sns.scatterplot(x=x, y=y, ax=ax, color=color, marker=marker, s=s,
                    linewidth=0, zorder=z)


# ---------------- top: title, zones, depth axis ----------------
fig.text(406 / W, 1 - 22 / H, 'Core FA09 - Depth (cm bsf)', ha='center', va='center',
         fontsize=19, weight='bold')

ax_z = box(X0, 43, X1, 72)
ax_z.set_xlim(0, 260)
ax_z.set_ylim(0, 1)
widths = [e - s for s, e in zip(zone_start, zone_end)]
ax_z.barh(0.5, widths, left=zone_start, height=1, color='#0f3d37', edgecolor='white',
          linewidth=1.2, clip_on=False)
for lab, s, e in zip(zone_labels, zone_start, zone_end):
    ax_z.text((s + e) / 2, 0.48, lab, color='white', style='italic', ha='center',
              va='center', fontsize=16)
ax_z.axis('off')

ax_dep = box(X0, 97, X1, 113)
ax_dep.set_facecolor('none')
ax_dep.set_xlim(0, 260)
ax_dep.set_ylim(0, 1)
for s in ['top', 'left', 'right']:
    ax_dep.spines[s].set_visible(False)
ax_dep.spines['bottom'].set_color(SPINE)
ax_dep.set_yticks([])
ax_dep.xaxis.set_major_locator(FixedLocator(np.arange(0, 261, 20)))
ax_dep.xaxis.set_minor_locator(FixedLocator(np.arange(0, 261, 10)))
ax_dep.tick_params(axis='x', which='both', direction='in', bottom=True, top=False,
                   labelbottom=False, labeltop=True, color=SPINE, width=1)
ax_dep.tick_params(axis='x', which='major', length=6, labelsize=15, pad=1)
ax_dep.tick_params(axis='x', which='minor', length=3.5)
sns.scatterplot(x=tie_depth, y=[0] * len(tie_depth), ax=ax_dep, marker='d', s=170,
                color='#ee1c24', linewidth=0, clip_on=False, zorder=5)

# ---------------- f / e ----------------
ax_e = box(X0, 122, X1, 521)
ax_e.set_facecolor('#eef4f4')
line(ax_e, upw_raw_age1, upw_raw_val1, '#bdbdbd', 1.0)
line(ax_e, upw_raw_age2, upw_raw_val2, '#bdbdbd', 1.0)
line(ax_e, upw_age1, upw_val1, '#2b7a4b', 1.6)
line(ax_e, upw_age2, upw_val2, '#2b7a4b', 1.6)
line(ax_e, [upw_age1[-1], upw_age2[0]], [upw_val1[-1], upw_val2[0]], '#2b7a4b', 1.6,
     linestyle=(0, (4, 3)))
ax_e.set_ylim(*lims(122, 521, 2, 291.7, 0, 510))
style_y(ax_e, 'left', 11, 0, 2, 0.5, 0.25)

ax_f = box(X0, 105, X1, 521)
ax_f.set_facecolor('none')
line(ax_f, foram_raw_age, foram_raw_val, '#bdbdbd', 1.0)
line(ax_f, foram_age, foram_val, '#2424f0', 1.5)
ax_f.set_ylim(*lims(105, 521, 40000, 115, 0, 333))
style_y(ax_f, 'right', 35, 0, 40000, 10000, 5000)

# ---------------- d ----------------
ax_d = box(X0, 600, X1, 890)
ax_d.set_facecolor('none')
line(ax_d, d13c_raw_age1, d13c_raw_val1, '#b5b5b5', 1.0, zorder=1)
line(ax_d, d13c_raw_gap_age, d13c_raw_gap_val, '#dddddd', 1.0, linestyle=':', zorder=1)
line(ax_d, d13c_raw_age2, d13c_raw_val2, '#b5b5b5', 1.0, zorder=1)
dots(ax_d, d13c_purple_age, d13c_purple_val, '#8c1fc4', z=3)
dots(ax_d, d13c_pink_age, d13c_pink_val, '#ff1fff', marker='s', s=22, z=4)
line(ax_d, d13c_age1, d13c_val1, '#f26c18', 1.9, zorder=6)
line(ax_d, [d13c_age1[-1]] + d13c_gap_age + [d13c_age2[0]],
     [d13c_val1[-1]] + d13c_gap_val + [d13c_val2[0]], '#f7b58c', 1.6,
     linestyle=(0, (1.5, 3)), zorder=6)
line(ax_d, d13c_age2, d13c_val2, '#f26c18', 1.9, zorder=6)
ax_d.set_ylim(*lims(600, 890, 2, 661.7, 0, 835))
style_y(ax_d, 'right', 35, -0.5, 2, 0.5, 0.25)

# ---------------- c ----------------
ax_c = box(X0, 900, X1, 1200)
ax_c.set_facecolor('none')
line(ax_c, d18o_raw_age1, d18o_raw_val1, '#b5b5b5', 1.0, zorder=1)
line(ax_c, d18o_raw_age2, d18o_raw_val2, '#b5b5b5', 1.0, zorder=1)
dots(ax_c, d18o_blue_age, d18o_blue_val, '#0b1fe6', z=2)
dots(ax_c, d18o_purple_age, d18o_purple_val, '#8c1fc4', z=3)
dots(ax_c, d18o_cyan_age, d18o_cyan_val, '#27c3f2', z=4)
dots(ax_c, d18o_pink_age, d18o_pink_val, '#ff1fff', marker='s', s=22, z=5)
line(ax_c, d18o_age1, d18o_val1, '#f26c18', 1.9, zorder=6)
line(ax_c, [d18o_age1[-1]] + d18o_gap_age + [d18o_age2[0]],
     [d18o_val1[-1]] + d18o_gap_val + [d18o_val2[0]], '#f7b58c', 1.6,
     linestyle=(0, (1.5, 3)), zorder=6)
line(ax_c, d18o_age2, d18o_val2, '#f26c18', 1.9, zorder=6)
ax_c.set_ylim(*lims(900, 1200, -2, 934.3, 0, 1007.7))
style_y(ax_c, 'left', 13, -2, 4, 2, 1)

# ---------------- b / a ----------------
ax_sl = box(X0, 1263, X1, 1663)
ax_sl.set_facecolor('none')
ax_sl.axvspan(-0.36, 30, color='#fcebde', zorder=0, clip_on=False, lw=0)
for a, v, e, band, col in [(sl1_age, sl1_val, sl1_err, '#a3918f', '#1a1a1a'),
                           (sl2_age, sl2_val, sl2_err, '#a3918f', '#1a1a1a'),
                           (sl3_age, sl3_val, sl3_err, '#97b3a3', '#2f5547'),
                           (sl4_age, sl4_val, sl4_err, '#a3918f', '#1a1a1a')]:
    v = np.array(v)
    e = np.array(e)
    ax_sl.fill_between(a, v - e, v + e, color=band, alpha=0.75, lw=0, zorder=1)
    line(ax_sl, a, v, col, 1.2, zorder=3)
line(ax_sl, [sl1_age[-1], sl2_age[0]], [sl1_val[-1], sl2_val[0]], '#1a1a1a', 1.2,
     linestyle=':', zorder=3)
sns.scatterplot(x=sl_obs_age, y=sl_obs_val, ax=ax_sl, marker='x', s=28, color='#e0703c',
                linewidth=1, zorder=2)
ax_sl.set_ylim(*lims(1263, 1663, 0, 1439, -125, 1650))
style_y(ax_sl, 'left', 13, -125, 0, 25, 12.5)

ax_ins = box(X0, 1240, X1, 1663)
ax_ins.set_facecolor('none')
line(ax_ins, ins_age, ins_val, '#222222', 1.3, linestyle=(0, (3, 2.5)))
ax_ins.set_ylim(*lims(1240, 1663, 520, 1246.7, 440, 1465))
style_y(ax_ins, 'right', 35, 440, 520, 20, 10)

# MIS bar
ax_mis = box(X0, 1668, X1, 1688)
ax_mis.set_xlim(0, 30)
ax_mis.set_ylim(0, 1)
ax_mis.barh(0.5, [e - s for s, e in zip(mis_start, mis_end)], left=mis_start, height=1,
            color='white', edgecolor='#3a3a3a', linewidth=1.2)
for lab, s, e in zip(mis_labels, mis_start, mis_end):
    ax_mis.text((s + e) / 2, 0.45, lab, color='#2f6db0', ha='center', va='center',
                fontsize=15)
ax_mis.axis('off')

# bottom age axis
ax_age = box(X0, 1689, X1, 1697)
ax_age.set_facecolor('none')
ax_age.set_xlim(0, 30)
for s in ['top', 'left', 'right']:
    ax_age.spines[s].set_visible(False)
ax_age.spines['bottom'].set_color(SPINE)
ax_age.set_yticks([])
ax_age.xaxis.set_major_locator(FixedLocator(np.arange(0, 31, 2)))
ax_age.xaxis.set_minor_locator(FixedLocator(np.arange(0, 31, 1)))
ax_age.tick_params(axis='x', which='both', direction='in', color=SPINE, width=1)
ax_age.tick_params(axis='x', which='major', length=7, labelsize=16.5, pad=8)
ax_age.tick_params(axis='x', which='minor', length=4)
fig.text(406 / W, 1 - 1753 / H, 'Age (cal ka BP)', ha='center', va='center', fontsize=20)

# ---------------- red tie lines ----------------
ax_ov = fig.add_axes([X0 / W, 0, (X1 - X0) / W, 1])
ax_ov.set_xlim(0, 30)
ax_ov.set_ylim(H, 0)
ax_ov.axis('off')
ax_ov.set_zorder(20)
bend_top = [563, 573, 570]
bend_bot = [628, 623, 623]
for i in range(len(tie_age_upper)):
    if i < 3:
        xs = [tie_age_upper[i], tie_age_upper[i], tie_age_lower[i], tie_age_lower[i]]
        ys = [113, bend_top[i], bend_bot[i], 1666]
    else:
        xs = [tie_age_upper[i], tie_age_lower[i]]
        ys = [113, 1666]
    ax_ov.plot(xs, ys, color=RED, lw=1.5, ls=(0, (6.5, 3.6)), clip_on=False)

# ---------------- labels ----------------
fig.text(45 / W, 1 - 401 / H, 'Upwelling Index', rotation=90, color='#1e7a46',
         fontsize=18, ha='center', va='center')
fig.text(841 / W, 1 - 228 / H, 'Planktic Foraminifera\n(N/gr)', rotation=90,
         color='#1a1aff', fontsize=17, ha='center', va='center', linespacing=1.0,
         multialignment='center')
fig.text(799 / W, 1 - 733 / H, r'δ$^{13}$C$_{\mathit{ruber}}$ (VPDB ‰)', rotation=90,
         fontsize=15.5, ha='center', va='center')
fig.text(50 / W, 1 - 1043 / H, r'δ$^{18}$O$_{\mathit{ruber}}$ (VPDB ‰)', rotation=90,
         fontsize=15.5, ha='center', va='center')
fig.text(821 / W, 1 - 1360 / H, 'Insolation - 65 °N\n(W/m²)', rotation=90,
         fontsize=17.5, ha='center', va='center', linespacing=1.0, multialignment='center')
fig.text(24 / W, 1 - 1548 / H, 'Relative Sea Level (m)', rotation=90,
         fontsize=17.5, ha='center', va='center')

for lab, x, y in [('f.', 733, 392), ('e.', 87, 570), ('d.', 736, 934),
                  ('c.', 73, 1203), ('b.', 746, 1513), ('a.', 67, 1683)]:
    fig.text(x / W, 1 - y / H, lab, fontsize=20, ha='left', va='center')

fig.savefig('out.png', dpi=100)
